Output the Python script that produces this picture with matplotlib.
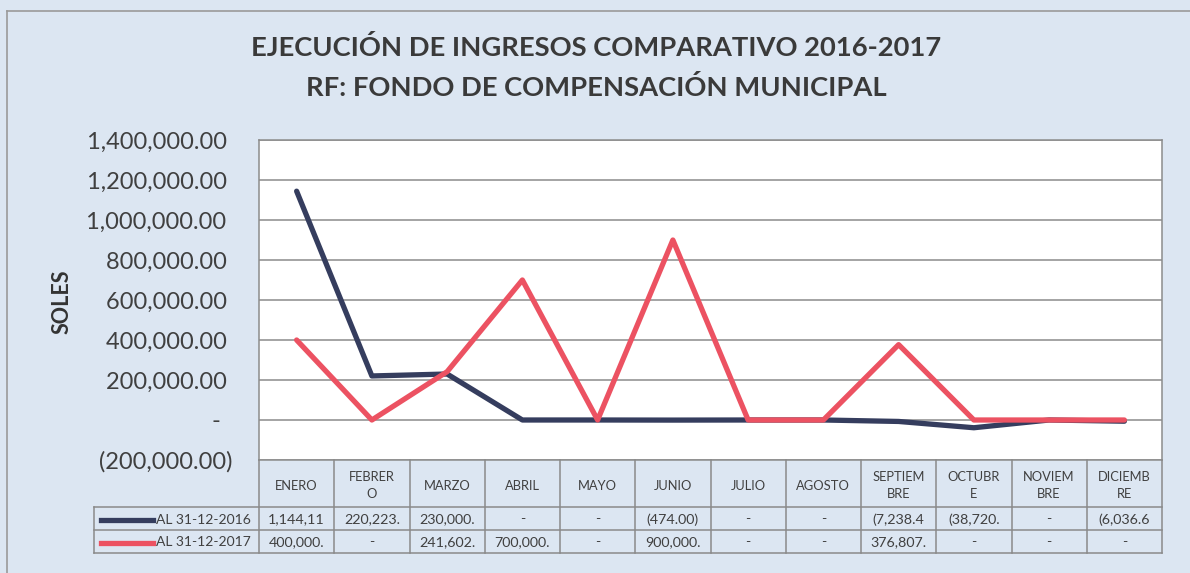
import matplotlib
matplotlib.use("Agg")
import matplotlib.pyplot as plt
from matplotlib import transforms
from matplotlib.lines import Line2D
from matplotlib.ticker import FuncFormatter, MultipleLocator

# ---------------- data ----------------
categories = ["ENERO", "FEBRER\nO", "MARZO", "ABRIL", "MAYO", "JUNIO", "JULIO",
              "AGOSTO", "SEPTIEM\nBRE", "OCTUBR\nE", "NOVIEM\nBRE", "DICIEMB\nRE"]
series_names = ["AL 31-12-2016", "AL 31-12-2017"]
values_2016 = [1144110.0, 220223.0, 230000.0, 0.0, 0.0, -474.0, 0.0, 0.0,
               -7238.4, -38720.0, 0.0, -6036.6]
values_2017 = [400000.0, 0.0, 241602.0, 700000.0, 0.0, 900000.0, 0.0, 0.0,
               376807.0, 0.0, 0.0, 0.0]
title_lines = ["EJECUCIÓN DE INGRESOS COMPARATIVO 2016-2017",
               "RF: FONDO DE COMPENSACIÓN MUNICIPAL"]
y_label = "SOLES"

# ---------------- style ----------------
W, H = 1190, 573
BG = "#dce6f2"
NAVY = "#353d5e"
RED = "#ec5262"
GRID = "#8c8c8c"
TXT = "#404040"
FONT = ["Lato", "DejaVu Sans"]
plt.rcParams["font.family"] = FONT

fig = plt.figure(figsize=(W / 100, H / 100), dpi=100, facecolor=BG)


def fx(px):
    return px / W


def fy(py):
    return 1 - py / H


# outer chart border (left & top visible)
fig.add_artist(Line2D([fx(7), fx(7)], [fy(11), fy(573)], color="#9a9a9a", lw=1.2))
fig.add_artist(Line2D([fx(7), fx(1190)], [fy(11), fy(11)], color="#9a9a9a", lw=1.2))

# plot area
PL, PR, PT, PB = 259, 1162, 140, 460
ax = fig.add_axes([fx(PL), fy(PB), fx(PR) - fx(PL), fy(PT) - fy(PB)])
ax.set_facecolor("white")
n = len(categories)
x = list(range(n))
ax.set_xlim(-0.5, n - 0.5)
ax.set_ylim(-200000, 1400000)
ax.yaxis.set_major_locator(MultipleLocator(200000))
ax.grid(axis="y", color=GRID, lw=1.1)
ax.set_axisbelow(True)
ax.set_xticks([])
for s in ax.spines.values():
    s.set_color(GRID)
    s.set_linewidth(1.1)


def yfmt(v, pos):
    if abs(v) < 1e-6:
        return "-  "
    if v < 0:
        return f"({abs(v):,.2f})"
    return f"{v:,.2f} "


ax.yaxis.set_major_formatter(FuncFormatter(yfmt))
ax.tick_params(axis="y", length=0, pad=19, labelsize=17, labelcolor=TXT)

ax.plot(x, values_2016, color=NAVY, lw=3.8, solid_capstyle="round",
        solid_joinstyle="round", zorder=3)
ax.plot(x, values_2017, color=RED, lw=3.8, solid_capstyle="round",
        solid_joinstyle="round", zorder=4)

fig.text(fx(62), fy(302), y_label, rotation=90, ha="center", va="center",
         fontsize=15.5, fontweight="bold", color="#333333")

fig.text(fx(596), fy(48), title_lines[0], ha="center", va="center",
         fontsize=19.7, fontweight="bold", color="#3a3a3a")
fig.text(fx(596), fy(88), title_lines[1], ha="center", va="center",
         fontsize=19.7, fontweight="bold", color="#3a3a3a")

# ---------------- data table ----------------
bt = transforms.blended_transform_factory(ax.transData, fig.transFigure)
TH_TOP, TH_BOT, R1_BOT, R2_BOT = 460, 507, 530, 553
LEG_L = 94
LC = "#8a8a8a"

# horizontal lines
fig.add_artist(Line2D([fx(LEG_L), fx(PR)], [fy(TH_BOT), fy(TH_BOT)], color=LC, lw=1.1))
fig.add_artist(Line2D([fx(LEG_L), fx(PR)], [fy(R1_BOT), fy(R1_BOT)], color=LC, lw=1.1))
fig.add_artist(Line2D([fx(LEG_L), fx(PR)], [fy(R2_BOT), fy(R2_BOT)], color=LC, lw=1.1))
# vertical lines
fig.add_artist(Line2D([fx(LEG_L), fx(LEG_L)], [fy(TH_BOT), fy(R2_BOT)], color=LC, lw=1.1))
for i in range(n + 1):
    fig.add_artist(Line2D([i - 0.5, i - 0.5], [fy(TH_TOP), fy(R2_BOT)],
                          transform=bt, color=LC, lw=1.1))


def cell_fmt(v):
    if abs(v) < 1e-9:
        s = "-"
    elif v < 0:
        s = f"({abs(v):,.2f})"
    else:
        s = f"{v:,.2f}"
    return s[:8]


for i, c in enumerate(categories):
    fig.text(i, fy((TH_TOP + TH_BOT) / 2 + 2), c, transform=bt, ha="center",
             va="center", fontsize=9.3, color=TXT, linespacing=1.45)
    fig.text(i, fy((TH_BOT + R1_BOT) / 2 + 1), cell_fmt(values_2016[i]),
             transform=bt, ha="center", va="center", fontsize=10.3, color=TXT)
    fig.text(i, fy((R1_BOT + R2_BOT) / 2 + 1), cell_fmt(values_2017[i]),
             transform=bt, ha="center", va="center", fontsize=10.3, color=TXT)

for row, (name, col) in enumerate(zip(series_names, [NAVY, RED])):
    top = TH_BOT if row == 0 else R1_BOT
    bot = R1_BOT if row == 0 else R2_BOT
    yc = fy((top + bot) / 2 + 1)
    fig.add_artist(Line2D([fx(101), fx(153)], [yc, yc], color=col, lw=3.8))
    fig.text(fx(156), yc, name, ha="left", va="center", fontsize=10, color=TXT)

fig.savefig("out.png", dpi=100, facecolor=BG)
